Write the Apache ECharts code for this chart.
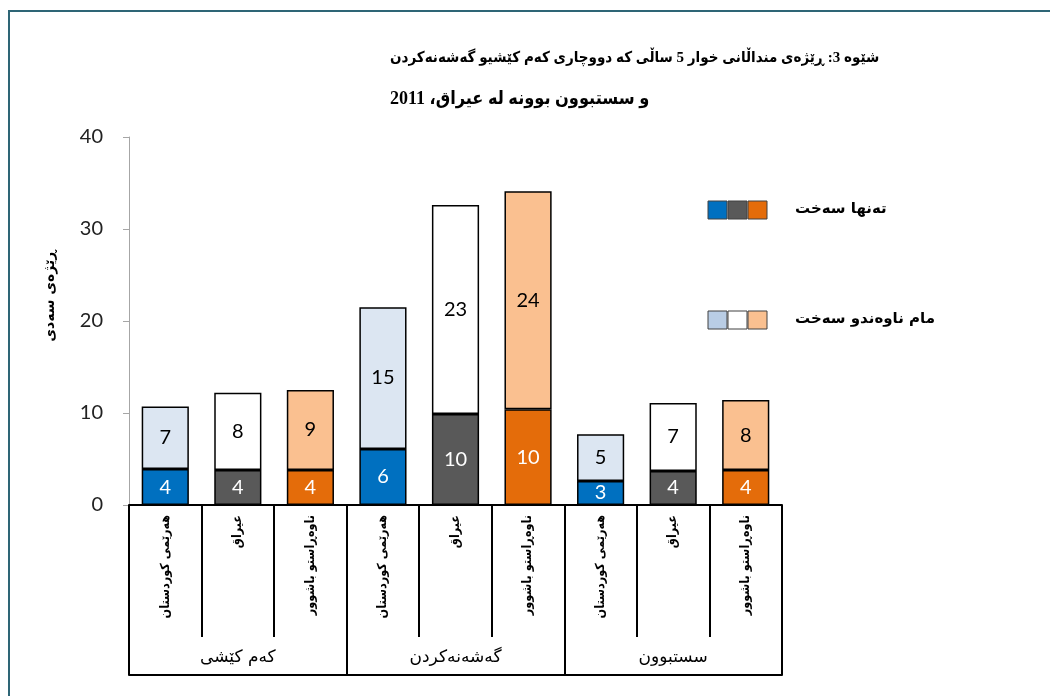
<!DOCTYPE html>
<html>
<head>
<meta charset="utf-8">
<script src="https://cdn.jsdelivr.net/npm/echarts@6/dist/echarts.min.js"></script>
<style>
  html, body { margin: 0; padding: 0; background: #fff; }
  #wrap { position: relative; width: 1050px; height: 696px; overflow: hidden; }
  #chart { width: 1050px; height: 696px; }
  #frame {
    position: absolute; left: 8px; top: 10px; width: 1100px; height: 800px;
    border-top: 2px solid #2e6576; border-left: 2px solid #2e6576; pointer-events: none;
  }
</style>
</head>
<body>
<div id="wrap">
  <div id="chart"></div>
  <div id="frame"></div>
</div>
<script>
// data
var regions = [
  "هەرێمی کوردستان", "عیراق", "ناوەڕاستو باشوور",
  "هەرێمی کوردستان", "عیراق", "ناوەڕاستو باشوور",
  "هەرێمی کوردستان", "عیراق", "ناوەڕاستو باشوور"
];
var groups = ["کەم کێشی", "گەشەنەکردن", "سستبوون"];
var severe = [3.9, 3.8, 3.8, 6.1, 9.9, 10.4, 2.6, 3.7, 3.8];     // تەنها سەخت
var moderate = [6.8, 8.4, 8.7, 15.4, 22.7, 23.7, 5.1, 7.4, 7.6]; // مام ناوەندو سەخت
var seriesNames = ["تەنها سەخت", "مام ناوەندو سەخت"];
var yMin = 0, yMax = 40, yStep = 10;

var darkColors = ["#0070C0", "#595959", "#E46C0A"];
var lightColors = ["#DCE6F2", "#FFFFFF", "#FAC090"];
var legendLight = ["#B9CDE5", "#FFFFFF", "#FAC090"];

var arabicFont = "DejaVu Sans";
var narrowFont = "DejaVu Sans Condensed";
var numFont = "Lato";

function items(values, colors) {
  return values.map(function (v, i) {
    return { value: v, itemStyle: { color: colors[i % 3] } };
  });
}

function legendRow(colors, y, text) {
  var out = [];
  colors.forEach(function (c, i) {
    out.push({
      type: "rect",
      shape: { x: 708 + i * 20, y: y, width: 19, height: 18 },
      style: { fill: c, stroke: "#404040", lineWidth: 1 }
    });
  });
  out.push({
    type: "text",
    x: 795, y: y + 8,
    style: {
      text: text, fill: "#000", font: "bold 15px '" + arabicFont + "'",
      textAlign: "left", textVerticalAlign: "middle"
    }
  });
  return out;
}

var chart = echarts.init(document.getElementById("chart"));
var option = {
  backgroundColor: "#fff",
  animation: false,
  title: [
    {
      text: "شێوە 3: ڕێژەی منداڵانی خوار 5 ساڵی کە دووچاری کەم کێشیو گەشەنەکردن",
      left: 385, top: 46,
      textStyle: { fontFamily: "Liberation Serif, '" + narrowFont + "'", fontSize: 15, fontWeight: "bold", color: "#000" }
    },
    {
      text: "و سستبوون بوونە لە عیراق، 2011",
      left: 385, top: 85,
      textStyle: { fontFamily: "Liberation Serif, '" + narrowFont + "'", fontSize: 18, fontWeight: "bold", color: "#000" }
    }
  ],
  grid: { left: 129, right: 268, top: 137, bottom: 191, containLabel: false },
  yAxis: {
    type: "value",
    min: yMin, max: yMax, interval: yStep,
    name: "ڕێژەی سەدی",
    nameLocation: "middle",
    nameRotate: 90,
    nameGap: 72,
    nameTextStyle: { fontFamily: arabicFont, fontSize: 14, fontWeight: "bold", color: "#000", padding: [0, 0, 0, 50] },
    axisLine: { show: true, lineStyle: { color: "#A6A6A6", width: 1 } },
    axisTick: { show: true, length: 6, lineStyle: { color: "#A6A6A6" } },
    axisLabel: { fontFamily: numFont, fontSize: 20, color: "#222", margin: 26 },
    splitLine: { show: false }
  },
  xAxis: [
    {
      type: "category",
      data: regions,
      position: "bottom",
      axisLine: { show: true, lineStyle: { color: "#000", width: 2 } },
      axisTick: { show: true, interval: 0, length: 132, lineStyle: { color: "#000", width: 2 } },
      axisLabel: {
        interval: 0, rotate: 90, margin: 10,
        fontFamily: narrowFont, fontSize: 12.5, fontWeight: "bold", color: "#000"
      }
    },
    {
      type: "category",
      data: groups,
      position: "bottom",
      offset: 170,
      axisLine: { show: true, lineStyle: { color: "#000", width: 2 } },
      axisTick: { show: true, inside: true, interval: 0, length: 170, lineStyle: { color: "#000", width: 2 } },
      axisLabel: {
        inside: true, interval: 0, margin: 9,
        fontFamily: arabicFont, fontSize: 17, color: "#000"
      }
    }
  ],
  series: [
    {
      name: seriesNames[0],
      type: "bar",
      stack: "total",
      xAxisIndex: 0,
      barWidth: "65%",
      data: items(severe, darkColors),
      itemStyle: { borderColor: "#000", borderWidth: 1.5 },
      label: {
        show: true, position: "inside", color: "#fff",
        fontFamily: numFont, fontSize: 20,
        formatter: function (p) { return Math.round(p.value); }
      }
    },
    {
      name: seriesNames[1],
      type: "bar",
      stack: "total",
      xAxisIndex: 0,
      barWidth: "65%",
      data: items(moderate, lightColors),
      itemStyle: { borderColor: "#000", borderWidth: 1.5 },
      label: {
        show: true, position: "inside", color: "#000",
        fontFamily: numFont, fontSize: 20,
        formatter: function (p) { return Math.round(p.value); }
      }
    }
  ],
  graphic: legendRow(darkColors, 201, seriesNames[0]).concat(legendRow(legendLight, 311, seriesNames[1]))
};
chart.setOption(option);
window.addEventListener("resize", function () {
  chart.resize();
});
</script>
</body>
</html>
